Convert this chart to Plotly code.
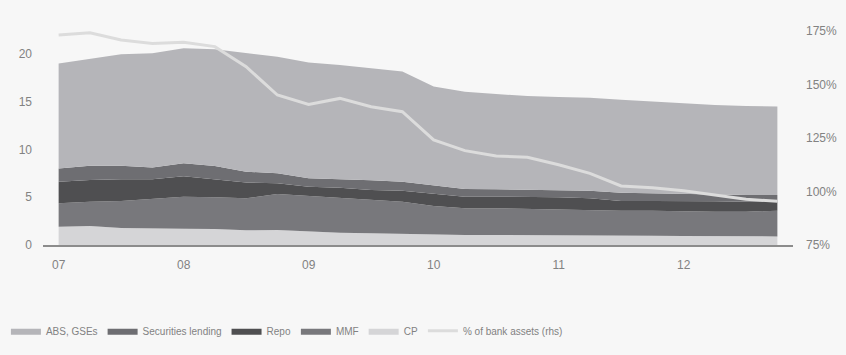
import plotly.graph_objects as go

# Quarterly observations, 2007 Q1 .. 2012 Q4 (USD trn)
quarters = list(range(24))
year_ticks = [0, 4, 8, 12, 16, 20]
year_labels = ["07", "08", "09", "10", "11", "12"]
rhs_ticks = [75, 100, 125, 150, 175]
rhs_labels = ["75%", "100%", "125%", "150%", "175%"]

cp = [1.92, 1.99, 1.78, 1.71, 1.71, 1.68, 1.54, 1.57, 1.40, 1.29, 1.22, 1.15,
      1.08, 1.05, 1.05, 1.05, 1.05, 1.03, 1.00, 0.98, 0.95, 0.93, 0.92, 0.90]
mmf = [2.44, 2.54, 2.82, 3.11, 3.35, 3.31, 3.35, 3.77, 3.73, 3.67, 3.49, 3.38,
       3.00, 2.79, 2.79, 2.72, 2.69, 2.63, 2.59, 2.61, 2.58, 2.56, 2.57, 2.69]
repo = [2.27, 2.27, 2.28, 2.06, 2.14, 1.91, 1.64, 1.12, 0.97, 1.04, 1.05, 1.16,
        1.26, 1.22, 1.22, 1.29, 1.25, 1.23, 1.02, 1.02, 1.08, 1.09, 1.04, 0.94]
sec_lending = [1.37, 1.50, 1.42, 1.22, 1.35, 1.37, 1.15, 1.04, 0.88, 0.90, 1.01, 0.94,
               0.94, 0.80, 0.77, 0.70, 0.73, 0.79, 0.87, 0.80, 0.80, 0.76, 0.71, 0.71]
abs_gses = [11.00, 11.20, 11.67, 11.97, 12.05, 12.23, 12.39, 12.20, 12.12, 11.95, 11.73, 11.52,
            10.32, 10.19, 9.97, 9.84, 9.78, 9.72, 9.72, 9.59, 9.39, 9.32, 9.31, 9.26]
pct_bank_assets = [173.1, 174.2, 170.8, 169.2, 169.7, 167.7, 158.3, 145.1, 140.7, 143.5, 139.6, 137.3,
                   124.1, 119.1, 116.6, 116.0, 112.5, 108.5, 102.6, 101.8, 100.4, 98.4, 96.4, 95.4]

# Stacked layers, bottom to top: (name, values, colour, legend position)
layers = [
    ("CP", cp, "#d5d5d7", 5),
    ("MMF", mmf, "#78787c", 4),
    ("Repo", repo, "#4f4f51", 3),
    ("Securities lending", sec_lending, "#6e6e72", 2),
    ("ABS, GSEs", abs_gses, "#b5b5b9", 1),
]

fig = go.Figure()
for name, vals, colour, rank in layers:
    fig.add_trace(go.Scatter(
        x=quarters, y=vals, name=name, mode="lines",
        stackgroup="one", fillcolor=colour,
        line=dict(width=0, color=colour),
        legendrank=rank,
    ))

fig.add_trace(go.Scatter(
    x=quarters, y=pct_bank_assets, name="% of bank assets (rhs)",
    mode="lines", yaxis="y2",
    line=dict(color="#dcdcdc", width=3),
    legendrank=6,
))

tick_font = dict(family="Liberation Sans, Arial, sans-serif", size=12, color="#828282")

fig.update_layout(
    width=846, height=355,
    margin=dict(l=43, r=53, t=31, b=110, autoexpand=False),
    paper_bgcolor="#f7f7f7", plot_bgcolor="#f7f7f7",
    showlegend=True,
    legend=dict(
        orientation="h", xref="container", yref="container",
        x=0.007, xanchor="left", y=0.068, yanchor="middle",
        font=dict(family="Liberation Sans Narrow, Arial Narrow, sans-serif", size=10, color="#828282"),
        traceorder="normal", itemwidth=30, bgcolor="rgba(0,0,0,0)",
    ),
    xaxis=dict(
        range=[-0.5, 23.5], tickvals=year_ticks, ticktext=year_labels,
        showgrid=False, zeroline=False, showline=True, linecolor="#8c8c8c", linewidth=2,
        ticks="", tickfont=tick_font, ticklabelstandoff=8,
    ),
    yaxis=dict(
        range=[0, 22.4], tickvals=[0, 5, 10, 15, 20],
        showgrid=False, zeroline=False, showline=False,
        ticks="", tickfont=tick_font, ticklabelstandoff=10,
    ),
    yaxis2=dict(
        range=[75, 175], tickvals=rhs_ticks, ticktext=rhs_labels,
        overlaying="y", side="right",
        showgrid=False, zeroline=False, showline=False,
        ticks="", tickfont=tick_font, ticklabelstandoff=12,
    ),
)

fig.write_html("out.html")
